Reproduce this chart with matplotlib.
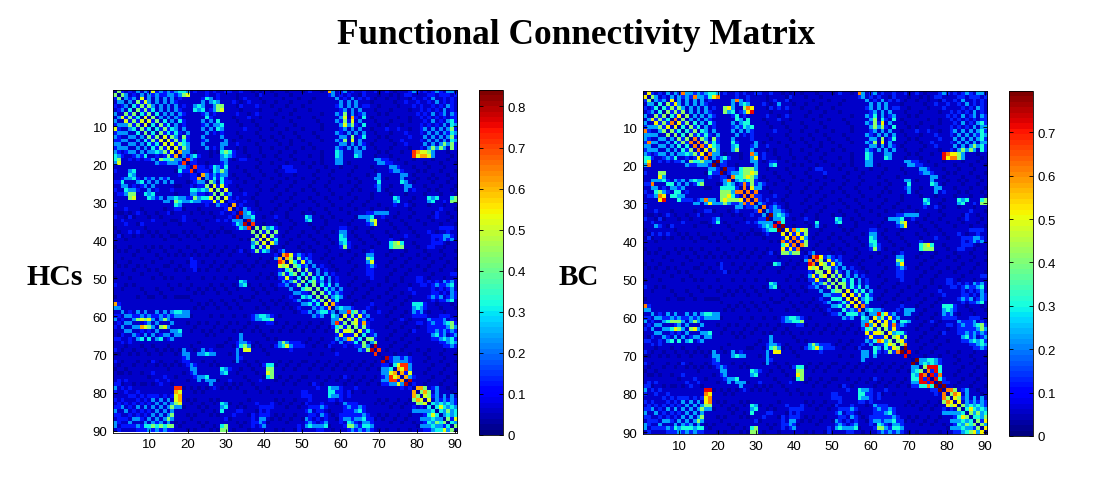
import numpy as np
import matplotlib
matplotlib.use("Agg")
import matplotlib.pyplot as plt

# digit -> connectivity value, estimated from the jet colour of each cell
LEVELS = [0.03, 0.06, 0.13, 0.23, 0.31, 0.42, 0.52, 0.61, 0.71, 0.80]
TICKS = [10, 20, 30, 40, 50, 60, 70, 80, 90]
HC_CBAR_TICKS = [0, 0.1, 0.2, 0.3, 0.4, 0.5, 0.6, 0.7, 0.8]
BC_CBAR_TICKS = [0, 0.1, 0.2, 0.3, 0.4, 0.5, 0.6, 0.7]

# upper triangle, one row per region, columns grouped by tens ('.' = mirrored)
# rows stop early once only background is left
HC_ROWS = [
"0521213132 6232323443 1211212112 2112110101 1011101110 1211017312 3121121120 1210111232 1212321331",
"5053121313 2322332356 1111211211 1101111021 1101110111 1111112312 1211021110 1101012211 1122122212",
"..03231613 1313131211 1112431211 1101211101 1111011101 1101111131 2131212101 1011011021 1213112121",
"...0315263 1313132111 1113134311 1210121110 1101110111 1011111113 1313111011 1110112112 1121312121",
"....042525 3131313121 1343113551 1102111211 1011101110 1111111123 1313122110 1111011121 2112121321",
".....05252 4131313211 1434123561 1110111101 1110111011 1011111112 3131311101 1101111011 2121213121",
"......0425 1413131321 1112312111 1121101211 1101110111 1111011132 5131231110 1011111112 1213123132",
".......061 5131313211 1111421111 1011121101 1111011101 1101111113 6172141011 1111011011 2121212122",
"........06 2514131421 1113131411 1101110111 1011110111 1110111132 5261311101 1101111011 1213121342",
".........0 4152413121 1112313341 1110111011 1101111011 1111011113 6352141110 1011101111 2121213143",
"0425243131 1113131431 1111211101 1011101110 1111011112 3131311011 1211211011 2313131352",
".052424213 1111312121 1101111011 1110111011 1101111132 1313131101 1101112111 2131313243",
"..06153152 1113111131 1110111101 1011011101 1110111113 3151241110 1011111211 1313131352",
"...0625242 1112311113 1011101110 1101110110 1111011132 5161311101 1101121111 2131313143",
"....062543 1113111133 1121111011 1110110111 1011111113 3131321011 1110112111 1313135352",
".....06253 1111312131 1101011101 1011101110 1101111132 1313131101 1101111011 2135353152",
"......0733 1011101045 4211011101 1110111011 1111011143 1113311110 1011101187 6653111011",
".......032 3421101134 3211101110 1101110111 1011011143 1114311101 1101111186 7763111101",
"........08 3211111133 1012211011 1110111011 1111011133 1111111133 2211011101 1110111011",
".........0 2211011123 1111111101 1011101110 1101011133 1011111113 3221110111 1011101110",
"0822124324 1101111011 1110222111 1011101110 1110111011 1133211101 1101110111",
".022214353 1111011101 1101122211 1110111011 1101111101 1123321110 1011101110",
"..07323233 1011101110 1110111011 1101110111 1011110113 1111133101 1110111011 1112343321",
"...0324242 1101110111 1011101110 1110111011 1110111133 1011131110 1101011101 1123232211",
"....053142 2111011101 1110111011 1101110111 1011011114 1111143101 1110111011 1113232321",
".....06262 1101111011 1101110111 1011101110 1110111123 1101113311 1011101110 1112122321",
"......0516 1110111101 1011101110 1101110111 1101011113 1011113121 1101011101 1111233322",
".......052 3111211011 1110111011 1110111011 1011111011 1101110111 1011101110 1101111011",
"........06 2121110111 1101110111 1011101110 1110111011 1114311101 1143411145 5654411101",
".........0 2211211011 1011101110 1101110111 1101110111 1113411011 1134112155 5655311011",
"0712111011 1110111011 1110111011 1011101110 1112112101 1101110111",
".021321101 1101110111 1011101110 1110111011 1011111011 1111121110",
"..09342111 1011101110 1101110111 1011112233 3311011101 1110211011",
"...0334110 1121101111 4311011011 1110333411 2110111011 1101211101",
"....093111 1101110111 3411101110 1101113561 1011101110 1110111011",
".....08110 1110111011 1011101111 1011112361 1101110111 1011101110",
"......0515 3421110111 1101011112 2110111011 1110111011 1111122221",
".......052 5151101110 1110111013 3101110111 1011011101 1121011211",
"........06 1521011101 1011101114 3110111011 1101112110 1112223321",
".........0 6241110111 1101110114 4111011101 1121101111 1112123231",
"0631101110 1110111013 4211101110 1145641101 1112221011",
".011011101 1011101112 5210111011 1145551110 1122110111",
"..02311110 1101110111 1011101211 1101110111 1011101110",
"...0786232 1211101110 1110113311 1011101110 1101110111",
"....075152 3211011011 1101115411 1110111011 1011101110",
".....06426 2311110111 1011113611 1101110111 1110111011",
"......0542 3131211011 1110112321 1011101110 1101110111",
".......051 5213121101 1101112211 1110111011 1011101110",
"........04 2513131211 1011112211 1101110111 1110111122",
".........0 5142413121 1110111211 1011101112 2101110111",
"0452313121 1101110111 1011101112 2121213231",
".051424131 1011101110 1110111011 2212322341",
"..05142313 1110111011 1101111211 1112121231",
"...0524232 1101110111 1011101121 1112212132",
"....051343 1011101110 1110111011 1123231232",
".....06241 1110111011 1101110111 1112122341",
"......0721 1101111211 1011101144 4211011101",
".......034 3321112101 1110111134 3211101110",
"........03 3845231112 1101110132 3101110111",
".........0 6252623111 1011101122 2211122211",
"0526231211 1110121011 1132223121",
".056272111 1101110112 2123223452",
"..05252111 1011101110 1122222353",
"...0624211 1110111021 1122323232",
"....041231 1101110111 1113423123",
".....05521 1011101110 1112234342",
"......0351 1110111011 1111122343",
".......091 1101110111 1111112232",
"........08 1011101110 1101110111",
".........0 1110111011 1011101110",
"0923323211 1101110111",
".023333211 1011101110",
"..04688311 1110111011",
"...0768311 1101110111",
"....072611 1011101110",
".....07321 1110111011",
"......0911 1101110111",
".......021 1011101110",
"........07 7512311011",
".........0 5751311101",
"0652313131",
".061323232",
"..04343432",
"...0464343",
"....043534",
".....03434",
"......0526",
".......043",
"........05",
".........0",
]

BC_ROWS = [
"0621213132 7332323443 1211212112 2112110101 1011101110 1211017312 3121121120 1210111232 1212321331",
"6053121313 2327332467 1111211211 1101111021 1101110111 1111112312 1211021110 1101012211 1122122212",
"..03231613 1313131211 1113731211 1101211201 1111011101 1101111131 2131212101 1011011021 1213112121",
"...0415263 1313132111 1113134311 1210131110 1101110111 1011111113 1313111011 1110112112 1121312121",
"....042525 3131313121 1563115761 1102121211 1011101110 1111111123 1313122110 1111011121 1112121321",
".....05252 5131313211 1534123681 1110111101 1110111011 1011111112 3131311101 1101111011 2121213121",
"......0426 1513131321 1112412111 1121101211 1101110111 1111011132 4131231110 1011111112 1213123132",
".......071 5131313211 1111431411 1011121101 1111011101 1101111113 5142141011 1111011011 2121212122",
"........06 2514131421 1113134411 1101110111 1011110111 1110111132 5261311101 1101111011 1213121342",
".........0 4152413121 1112324341 1110111011 1101111011 1111011113 5352141110 1011101111 2121213133",
"0425143131 1113131321 1111211101 1011101110 1111011112 3131311011 1211211011 2313131342",
".052424213 1111312121 1101111011 1110111011 1101111132 1313131101 1101112111 2131313243",
"..07153152 1113111121 1110111101 1011011101 1110111113 3151241110 1011111211 1313131342",
"...0715242 1114211113 1011101110 1101110110 1111011132 5161311101 1101121111 2131313133",
"....072643 1113411123 1121111011 1110110111 1011111113 3131321011 1110112111 1313135342",
".....06253 1113511131 1101011101 1011101110 1101111132 1313131101 1101111011 2135353142",
"......0733 1011101173 1211011101 1110111011 1111011143 1113311110 1011101187 6653111011",
".......032 3421101136 1211101110 1101110111 1011011143 1114311101 1101111186 7753111101",
"........09 3211111133 1012211011 1110111011 1111011133 1111111133 2211011101 1110111011",
".........0 2211011113 1113411110 1011101110 1101011133 1011111113 3221110111 1011101110",
"0922145553 1101111011 1110122111 1011101110 1110111011 1133211101 1101110111",
".023345565 1111011101 1101111211 1110111011 1101111101 1123321110 1011101110",
"..07445653 1011101110 1110111011 1101110111 1011110111 1111133101 1110111011 1112343321",
"...0343452 1101110111 1011101110 1110111011 1110111133 1011131110 1101011101 1123232211",
"....127252 3211011101 1110111011 1101110111 1011011114 1111143101 1110111011 1113232321",
".....07163 3101111011 1101110111 1011101110 1110111123 1101113311 1011101110 1112122321",
"......0717 1110111101 1011101110 1101110111 1101011113 1011113121 1101011101 1111233322",
".......072 2111211011 1110111011 1110111011 1011111011 1101110111 1011101110 1101111011",
"........07 2121110111 1101110111 1011101110 1110111011 1114311101 1143411145 5654411101",
".........0 3211211011 1011101110 1101110111 1101110111 1113411011 1134112155 5655311011",
"0712321011 1110111011 1110111011 1011101110 1112112101 1101110111",
".032332101 1101110111 1011101110 1110111011 1011111011 1111121110",
"..09343211 1011101110 1101110111 1011112233 3311011101 1110211011",
"...0334110 1121101111 4311011011 1110333411 2110111011 1101211101",
"....084111 1101141111 3411101110 1101113561 1011101110 1110111011",
".....09110 1110131011 1011101111 1011112361 1101110111 1011101110",
"......0627 4651110111 1101011112 2110111011 1110111011 1111122221",
".......062 6251101110 1110111013 3101110111 1011011101 1121011211",
"........07 2631011101 1011101114 3110111011 1101112110 1112223321",
".........0 7251110111 1101110114 4111011101 1121101111 1112123231",
"0751101110 1110111013 4211101110 1145641101 1112221011",
".011011101 1011101112 5210111011 1145551110 1122110111",
"..02311110 1101110111 1011101211 1101110111 1011101110",
"...0786232 1211101110 1110113311 1011101110 1101110111",
"....075162 3211011011 1101115411 1110111011 1011101110",
".....06526 2311110111 1011113611 1101110111 1110111011",
"......0552 3131211011 1110112321 1011101110 1101110111",
".......061 5213121101 1101112211 1110111011 1011101110",
"........05 2513131211 1011112211 1101110111 1110111122",
".........0 5142413121 1110111211 1011101112 2101110111",
"0552413121 1101110111 1011101112 2121213231",
".052424131 1011101110 1110111011 2212322341",
"..06142413 1110111011 1101111211 1112121231",
"...0625242 1101110111 1011101121 1112212132",
"....061343 1011101110 1110111011 1123231232",
".....06241 1110111011 1101110111 1112122341",
"......0721 1101111211 1011101144 4211011101",
".......034 3321112133 3110111134 3211101110",
"........03 3846231133 1101110132 3101110111",
".........0 6352623111 1011101122 2211122211",
"0626241443 1110121011 1132223121",
".056272321 1101110112 2123223452",
"..05262111 1011101110 1122222353",
"...0634421 1110111021 1122323232",
"....056251 1101110111 1113423123",
".....05621 1011101110 1112234342",
"......0571 1110111011 1111122343",
".......091 1101110111 1111112232",
"........08 1011101110 1101110111",
".........0 1110111011 1011101110",
"0933443211 1101110111",
".034343211 1011101110",
"..05888411 1110111011",
"...0728411 1101110111",
"....082711 1011101110",
".....08421 1110111011",
"......0922 1101110111",
".......091 1011101110",
"........07 7512311011",
".........0 5761311101",
"0652313131",
".061323232",
"..05343432",
"...0464343",
"....053534",
".....04435",
"......0526",
".......053",
"........06",
".........0",
]


def to_matrix(rows):
    m = np.full((90, 90), LEVELS[1])
    for r, line in enumerate(rows):
        s = line.replace(" ", "")
        start = r // 10 * 10
        for k, ch in enumerate(s):
            c = start + k
            if ch != "." and c >= r and c < 90:
                m[r, c] = m[c, r] = LEVELS[int(ch)]
    return m


def draw_panel(ax_box, cax_box, mat, vmax, cbar_ticks):
    ax = fig.add_axes(ax_box)
    im = ax.imshow(mat, cmap=plt.get_cmap("jet", 64), vmin=0, vmax=vmax,
                   interpolation="nearest", extent=(0.5, 90.5, 90.5, 0.5), aspect="auto")
    ax.set_xticks(TICKS)
    ax.set_yticks(TICKS)
    ax.tick_params(direction="in", length=3, width=0.6, labelsize=9.5, pad=4, top=True, right=True)
    for s in ax.spines.values():
        s.set_linewidth(0.6)
    cax = fig.add_axes(cax_box)
    cb = fig.colorbar(im, cax=cax)
    cb.set_ticks(cbar_ticks)
    cb.set_ticklabels([f"{t:g}" for t in cbar_ticks])
    cax.tick_params(direction="in", length=3, width=0.6, labelsize=9.5, pad=3, left=True, right=True)
    cb.outline.set_linewidth(0.6)


plt.rcParams["font.family"] = ["Liberation Sans", "DejaVu Sans"]
W, H = 1097, 489
fig = plt.figure(figsize=(W / 100, H / 100), dpi=100)

draw_panel([113 / W, 1 - 433.5 / H, 344 / W, 342.5 / H], [479 / W, 1 - 436 / H, 24 / W, 345 / H],
           to_matrix(HC_ROWS), 0.84, HC_CBAR_TICKS)
draw_panel([643 / W, 1 - 435 / H, 344 / W, 343 / H], [1009 / W, 1 - 437 / H, 24 / W, 345 / H],
           to_matrix(BC_ROWS), 0.795, BC_CBAR_TICKS)

fig.text(576 / W, 1 - 36 / H, "Functional Connectivity Matrix", family="Liberation Serif",
         weight="bold", size=25.4, ha="center", va="center")
fig.text(54.5 / W, 1 - 278 / H, "HCs", family="Liberation Serif", weight="bold", size=21.5, ha="center", va="center")
fig.text(578.5 / W, 1 - 278 / H, "BC", family="Liberation Serif", weight="bold", size=21, ha="center", va="center")

fig.savefig("out.png", dpi=100)
